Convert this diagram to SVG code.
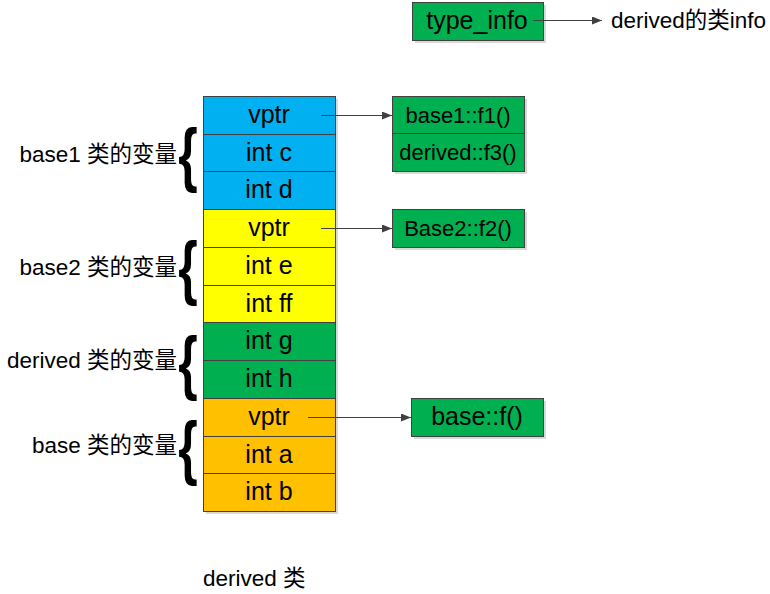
<svg xmlns="http://www.w3.org/2000/svg" width="770" height="594" viewBox="0 0 770 594">
<defs>
<marker id="ah" markerWidth="10" markerHeight="8" refX="10" refY="4" orient="auto" markerUnits="userSpaceOnUse">
<path d="M0,0 L10,4 L0,8 Z" fill="#404040"/>
</marker>
</defs>
<style>
text{font-family:"Liberation Sans","Noto Sans CJK SC",sans-serif;fill:#000}
.cell{stroke:#404040;stroke-width:1}
.shadow{fill:#d9d9d9}
.blue{fill:#00B0F0}
.yellow{fill:#FFFF00}
.green{fill:#00B050}
.orange{fill:#FFC000}
.ct{font-size:25px;text-anchor:middle}
.bt{font-size:22px;text-anchor:middle}
.lbl{font-size:22.5px;text-anchor:end}
.brace{font-size:50px;font-weight:bold;text-anchor:middle}
.conn{stroke:#404040;stroke-width:1;fill:none;marker-end:url(#ah)}
</style>
<rect width="770" height="594" fill="#fff"/>

<g id="memory">
<rect class="shadow" x="206" y="99" width="132" height="415"/>
<g id="base1-block">
<rect class="cell blue" x="203.5" y="96.5" width="132" height="38"/>
<text class="ct" x="269" y="123">vptr</text>
<rect class="cell blue" x="203.5" y="134.5" width="132" height="37"/>
<text class="ct" x="269" y="161">int c</text>
<rect class="cell blue" x="203.5" y="171.5" width="132" height="38"/>
<text class="ct" x="269" y="198">int d</text>
</g>
<g id="base2-block">
<rect class="cell yellow" x="203.5" y="209.5" width="132" height="38"/>
<text class="ct" x="269" y="236">vptr</text>
<rect class="cell yellow" x="203.5" y="247.5" width="132" height="38"/>
<text class="ct" x="269" y="274">int e</text>
<rect class="cell yellow" x="203.5" y="285.5" width="132" height="37"/>
<text class="ct" x="269" y="312">int ff</text>
</g>
<g id="derived-block">
<rect class="cell green" x="203.5" y="322.5" width="132" height="38"/>
<text class="ct" x="269" y="349">int g</text>
<rect class="cell green" x="203.5" y="360.5" width="132" height="38"/>
<text class="ct" x="269" y="387">int h</text>
</g>
<g id="base-block">
<rect class="cell orange" x="203.5" y="398.5" width="132" height="38"/>
<text class="ct" x="269" y="425">vptr</text>
<rect class="cell orange" x="203.5" y="436.5" width="132" height="37"/>
<text class="ct" x="269" y="463">int a</text>
<rect class="cell orange" x="203.5" y="473.5" width="132" height="38"/>
<text class="ct" x="269" y="500">int b</text>
</g>
</g>

<g id="labels">
<text class="lbl" x="177" y="162">base1 类的变量</text>
<text class="lbl" x="177" y="275">base2 类的变量</text>
<text class="lbl" x="177" y="368">derived 类的变量</text>
<text class="lbl" x="177" y="453">base 类的变量</text>
</g>

<g id="braces">
<text class="brace" transform="translate(188,178) scale(1,1.4)">{</text>
<text class="brace" transform="translate(188,291) scale(1,1.4)">{</text>
<text class="brace" transform="translate(188,386) scale(1,1.4)">{</text>
<text class="brace" transform="translate(188,471) scale(1,1.4)">{</text>
</g>

<g id="vtbl1">
<rect class="shadow" x="395" y="99" width="132" height="75"/>
<rect class="cell green" x="392.5" y="96.5" width="132" height="37"/>
<rect class="cell green" x="392.5" y="133.5" width="132" height="38"/>
<text class="bt" x="458" y="123">base1::f1()</text>
<text class="bt" x="458" y="160">derived::f3()</text>
</g>

<g id="vtbl2">
<rect class="shadow" x="395" y="212" width="132" height="38"/>
<rect class="cell green" x="392.5" y="209.5" width="132" height="38"/>
<text class="bt" x="458" y="236">Base2::f2()</text>
</g>

<g id="vtbl3">
<rect class="shadow" x="414" y="401" width="132" height="38"/>
<rect class="cell green" x="411.5" y="398.5" width="132" height="38"/>
<text class="ct" x="477" y="425">base::f()</text>
</g>

<g id="typeinfo">
<rect class="shadow" x="415" y="5" width="131" height="38"/>
<rect class="cell green" x="412.5" y="2.5" width="131" height="38"/>
<text class="ct" x="477" y="29">type_info</text>
</g>

<g id="connectors">
<line class="conn" x1="321" y1="115.5" x2="392" y2="115.5"/>
<line class="conn" x1="321" y1="228.5" x2="392" y2="228.5"/>
<line class="conn" x1="308" y1="417.5" x2="411" y2="417.5"/>
<line class="conn" x1="533" y1="20.5" x2="602" y2="20.5"/>
</g>

<text x="611" y="28" style="font-size:22.5px">derived的类info</text>
<text x="203" y="586" style="font-size:22.5px">derived 类</text>
</svg>
